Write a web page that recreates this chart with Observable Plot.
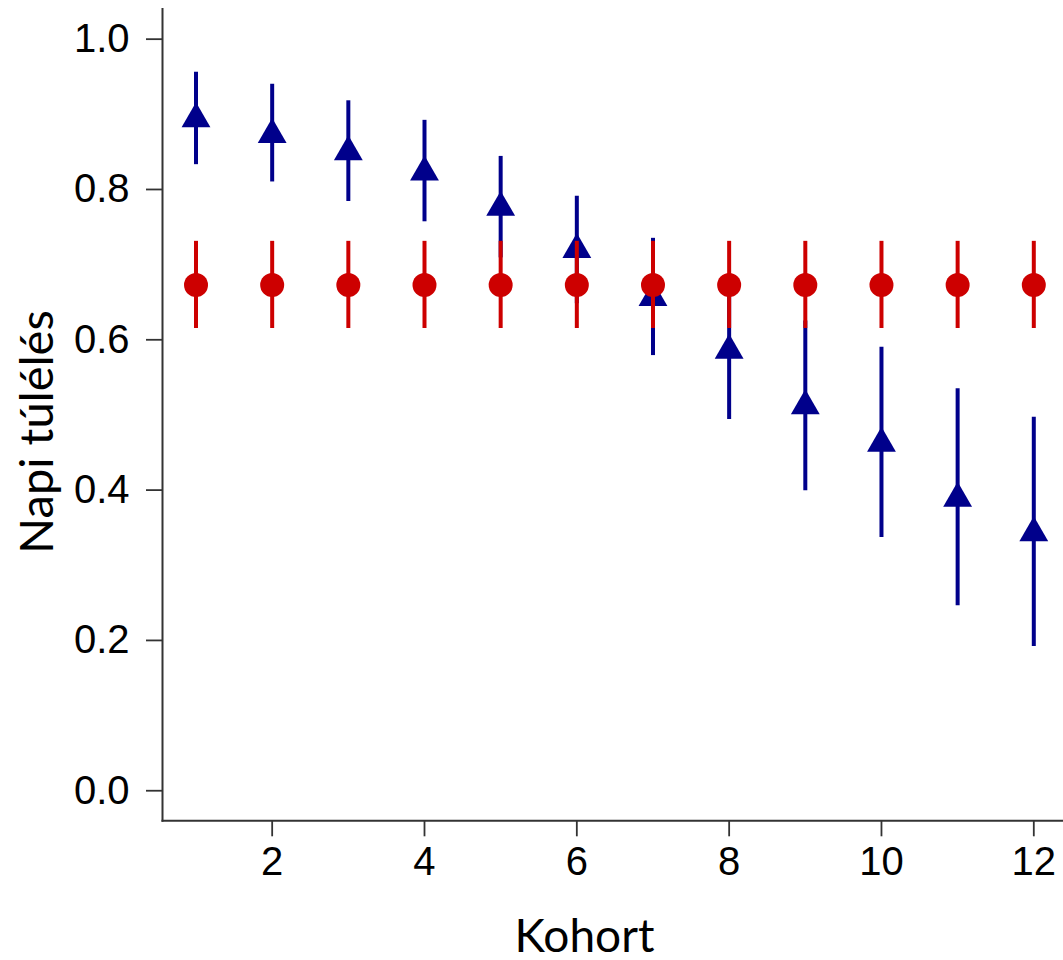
<!DOCTYPE html>
<html>
<head>
<meta charset="utf-8">
<script src="https://cdn.jsdelivr.net/npm/d3@7"></script>
<script src="https://cdn.jsdelivr.net/npm/@observablehq/plot@0.6"></script>
<style>
  html, body { margin: 0; padding: 0; background: white; overflow: hidden; }
  svg { display: block; }
</style>
</head>
<body>
<div id="chart"></div>
<script>
const kohort = [1, 2, 3, 4, 5, 6, 7, 8, 9, 10, 11, 12];
const blueEst = [0.894, 0.873, 0.850, 0.823, 0.776, 0.720, 0.656, 0.586, 0.512, 0.462, 0.389, 0.343];
const blueLo  = [0.833, 0.810, 0.784, 0.757, 0.709, 0.648, 0.579, 0.494, 0.399, 0.337, 0.246, 0.192];
const blueHi  = [0.956, 0.940, 0.918, 0.892, 0.844, 0.791, 0.735, 0.675, 0.625, 0.590, 0.535, 0.497];
const redEst  = [0.673, 0.673, 0.673, 0.673, 0.673, 0.673, 0.673, 0.673, 0.673, 0.673, 0.673, 0.673];
const redLo   = [0.615, 0.615, 0.615, 0.615, 0.615, 0.615, 0.615, 0.615, 0.615, 0.615, 0.615, 0.615];
const redHi   = [0.731, 0.731, 0.731, 0.731, 0.731, 0.731, 0.731, 0.731, 0.731, 0.731, 0.731, 0.731];
const xTicks = [2, 4, 6, 8, 10, 12];
const yTicks = [0, 0.2, 0.4, 0.6, 0.8, 1.0];
const xTitle = "Kohort";
const yTitle = "Napi túlélés";

const blue = kohort.map((k, i) => ({k, est: blueEst[i], lo: blueLo[i], hi: blueHi[i]}));
const red = kohort.map((k, i) => ({k, est: redEst[i], lo: redLo[i], hi: redHi[i]}));

const BLUE = "#00008B";
const RED = "#CD0000";
const AXIS = "#333";

const chart = Plot.plot({
  width: 1063,
  height: 960,
  marginLeft: 162,
  marginRight: 0,
  marginTop: 8.6,
  marginBottom: 139.7,
  x: {domain: [0.56, 12.39]},
  y: {domain: [-0.04, 1.04]},
  style: {background: "white", fontFamily: "'Liberation Sans', Arial, Helvetica, sans-serif", color: "black"},
  marks: [
    Plot.frame({anchor: "left", stroke: AXIS, strokeWidth: 2}),
    Plot.frame({anchor: "bottom", stroke: AXIS, strokeWidth: 2}),
    Plot.axisX({ticks: xTicks, tickSize: 16, tickPadding: 10, fontSize: 40, label: null, stroke: AXIS, strokeWidth: 1.8, fill: "black"}),
    Plot.axisY({ticks: yTicks, tickSize: 16, tickPadding: 17, fontSize: 40, label: null, tickFormat: d3.format(".1f"), stroke: AXIS, strokeWidth: 1.8, fill: "black"}),
    Plot.ruleX(blue, {x: "k", y1: "lo", y2: "hi", stroke: BLUE, strokeWidth: 4}),
    Plot.dot(blue, {x: "k", y: "est", symbol: "triangle", r: 10.7, fill: BLUE, stroke: "none"}),
    Plot.ruleX(red, {x: "k", y1: "lo", y2: "hi", stroke: RED, strokeWidth: 4}),
    Plot.dot(red, {x: "k", y: "est", symbol: "circle", r: 12, fill: RED, stroke: "none"}),
    Plot.text([xTitle], {frameAnchor: "bottom", lineAnchor: "bottom", textAnchor: "middle", dx: 584 - 612.5, dy: 130.7, fontSize: 46, fontFamily: "Lato", fill: "black"}),
    Plot.text([yTitle], {frameAnchor: "left", lineAnchor: "bottom", textAnchor: "middle", rotate: -90, dx: 52 - 162, dy: 17, fontSize: 47, fontFamily: "Lato", fill: "black"})
  ]
});
document.getElementById("chart").appendChild(chart);
</script>
</body>
</html>
